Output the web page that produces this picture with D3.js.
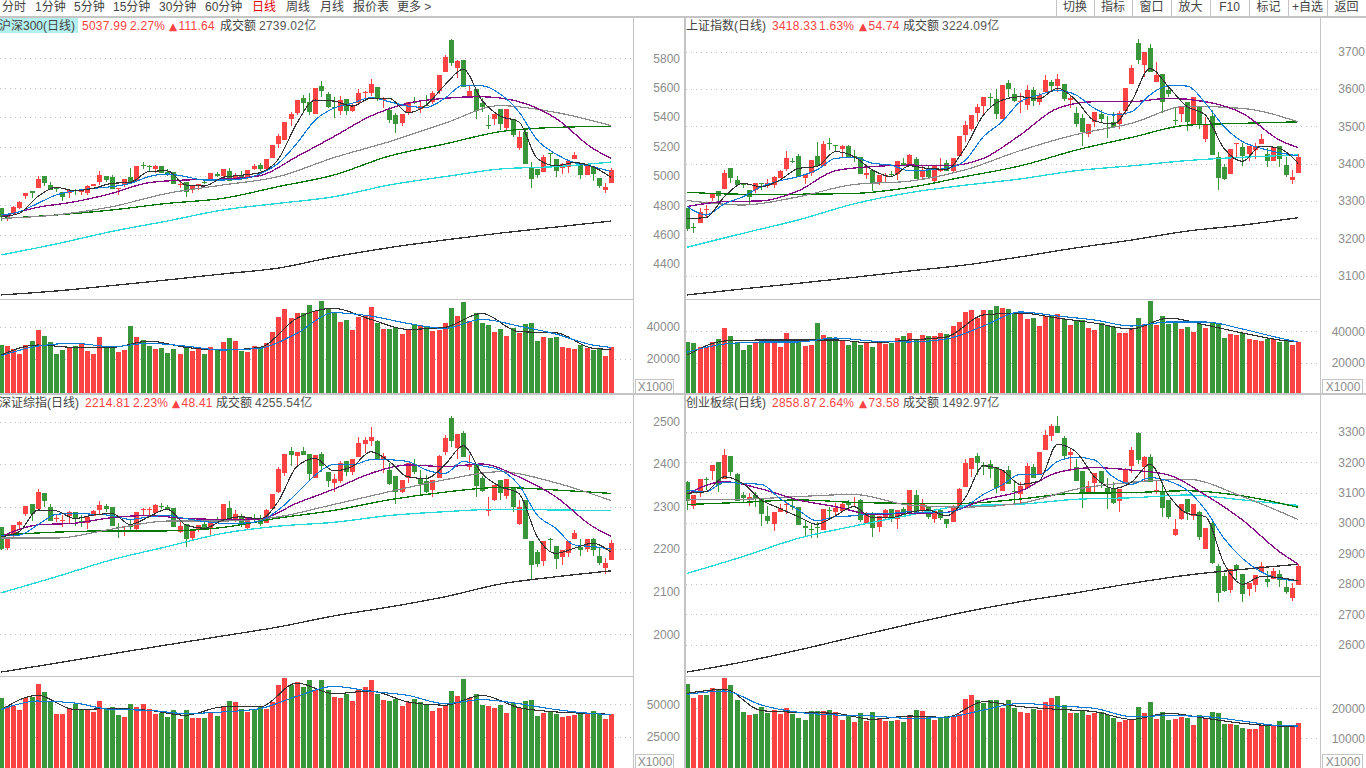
<!DOCTYPE html>
<html>
<head>
<meta charset="utf-8">
<title>指数日线</title>
<script src="https://d3js.org/d3.v7.min.js"></script>
<style>
    body { margin: 0; background: #fff; overflow: hidden; }
    svg { display: block; }
    text { font-family: "Liberation Sans", "Noto Sans CJK SC", sans-serif; font-size: 12px; }
    .ma, .wick, .grid, .rule { shape-rendering: crispEdges; }
    .ma { fill: none; }
</style>
</head>
<body>
<svg id="chart" width="1366" height="768"></svg>
<script>
// sample positions of the moving average readings (candle index)
const every3 = d3.range(0, 100, 3);
const every6 = d3.range(0, 100, 6).concat(99);
const every9 = d3.range(0, 100, 9);

const toolbarLeft = ["分时", "1分钟", "5分钟", "15分钟", "30分钟", "60分钟", "日线", "周线", "月线", "报价表", "更多 >"];
const toolbarRight = ["切换", "指标", "窗口", "放大", "F10", "标记", "+自选", "返回"];

// candles are [open, close, high, low]
const hs300Candles = [[4779,4722,4785,4695],[4717,4727,4734,4695],[4741,4786,4795,4738],[4779,4822,4830,4775],[4865,4881,4881,4840],[4895,4886,4895,4849],[4920,4976,4999,4920],[4999,4954,4999,4931],[4936,4904,4958,4904],[4922,4913,4922,4892],
[4890,4858,4890,4831],[4886,4904,4904,4849],[4902,4899,4913,4870],[4892,4896,4908,4872],[4886,4931,4938,4872],[4931,4942,4945,4928],[4961,5008,5033,4936],[4997,4970,4997,4958],[4992,4913,5008,4913],[4908,4917,4917,4872],
[4936,4976,4976,4922],[4992,4954,5051,4954],[4965,5067,5070,4960],[5072,5070,5092,5047],[5066,5064,5074,5029],[5047,5067,5074,5022],[5067,5022,5067,5022],[5024,5013,5044,4999],[5024,4947,5024,4947],[4940,4943,4961,4917],
[4956,4892,4956,4854],[4904,4938,4938,4881],[4933,4945,4948,4904],[4960,4957,4972,4945],[4972,5020,5020,4968],[5013,5001,5026,4990],[4999,5047,5047,4995],[5031,4963,5051,4963],[4979,4999,5017,4972],[5004,4995,5031,4972],
[4995,5040,5040,4976],[5047,5067,5081,5040],[5074,5044,5085,5035],[5047,5115,5115,5044],[5124,5212,5212,5124],[5219,5271,5285,5192],[5244,5366,5366,5244],[5389,5421,5437,5342],[5425,5516,5516,5414],[5532,5498,5550,5444],
[5503,5437,5562,5414],[5421,5598,5598,5421],[5611,5580,5648,5539],[5557,5471,5571,5460],[5468,5464,5539,5396],[5444,5516,5543,5414],[5521,5444,5521,5414],[5444,5475,5489,5435],[5498,5566,5589,5494],[5570,5573,5580,5510],
[5566,5625,5657,5543],[5605,5521,5605,5512],[5516,5528,5534,5460],[5448,5380,5466,5362],[5414,5353,5426,5294],[5362,5419,5419,5339],[5432,5500,5500,5414],[5502,5498,5534,5489],[5453,5478,5505,5426],[5484,5480,5550,5475],
[5505,5562,5577,5489],[5580,5686,5686,5557],[5709,5811,5822,5709],[5924,5770,5931,5750],[5736,5782,5788,5668],[5788,5602,5788,5602],[5546,5578,5618,5546],[5591,5444,5591,5385],[5494,5466,5528,5437],[5348,5345,5414,5317],
[5387,5421,5421,5346],[5455,5353,5455,5312],[5328,5455,5455,5312],[5387,5280,5387,5262],[5187,5267,5305,5176],[5298,5083,5323,5083],[5063,4976,5092,4920],[5047,5006,5047,4988],[5024,5128,5142,5024],[5155,5150,5158,5063],
[5115,5035,5115,4995],[5056,5081,5090,5013],[5060,5101,5101,5022],[5117,5142,5162,5117],[5085,5008,5085,4979],[5006,5081,5081,5006],[5063,5015,5063,4965],[4986,4931,4986,4920],[4904,4922,4949,4886],[4954,5038,5051,4954]];
const hs300Volume = [28650,28000,26000,23100,28650,31100,37950,34200,30500,23100,25550,26800,28000,29700,24950,23100,33600,26800,28000,24300,
25550,40400,33600,31750,28000,26200,26800,23700,26200,23100,28000,24950,26200,23100,27400,26200,30500,33000,31100,24950,
24300,28000,27400,29900,36700,46000,50900,45400,48500,48500,53400,49700,55900,50900,48500,42900,44100,37950,46000,46600,
52200,42300,38550,38550,39800,35450,37950,41000,41000,40400,37300,37950,42300,51600,46600,55300,43500,48500,42300,41000,
36700,38550,34200,39200,36100,41650,42300,31100,33600,33000,33600,27400,26800,26200,28650,27000,25550,26600,21800,27400];
const hs300Ma5 = [4722,4745,4859,4922,4899,4915,4949,4956,5029,5035,4938,4931,4990,5004,5022,5112,5357,5516,5509,5475,5528,5528,5430,5482,5618,5725,5516,5407,5369,5119,5069,5090,5063,4988];
const hs300Ma10 = [4734,4756,4813,4870,4899,4915,4927,4949,4995,5013,4995,4972,4972,4979,5013,5085,5221,5380,5460,5494,5532,5505,5475,5466,5528,5618,5614,5557,5437,5244,5149,5090,5063,5029];
const hs300Ma20 = [4722,4786,4824,4881,4954,4972,4979,5001,5131,5267,5407,5494,5528,5539,5505,5392,5187,5119];
const hs300Ma30 = [4711,4734,4790,4881,4938,4995,5124,5233,5358,5478,5432,5342];
const hs300Ma60 = [4711,4734,4768,4813,4847,4927,5006,5135,5217,5301,5330,5337];
const hs300Ma120 = [4462,4537,4622,4693,4768,4813,4858,4938,4995,5047,5063,5094];
const hs300Ma250 = [4190,4217,4254,4292,4333,4373,4449,4512,4564,4611,4652,4693];
const hs300VolMa5 = [22450,28650,27200,27200,31100,27200,25550,27200,45150,51350,44550,38350,39600,48250,36900,36300,26600,25950];
const hs300VolMa10 = [21850,28000,29700,27600,29700,28000,25550,26600,35900,48650,46600,42050,38950,44550,40400,35450,28650,27200];

const shCandles = [[3281,3225,3281,3220],[3230,3228,3242,3213],[3242,3271,3280,3240],[3276,3278,3289,3258],[3308,3319,3319,3300],[3326,3314,3326,3298],[3333,3376,3383,3333],[3387,3362,3387,3349],[3355,3343,3367,3343],[3347,3343,3347,3334],
[3328,3311,3328,3292],[3328,3347,3347,3322],[3347,3344,3347,3329],[3340,3348,3360,3334],[3343,3364,3367,3334],[3362,3380,3383,3362],[3386,3414,3434,3380],[3408,3406,3414,3401],[3420,3365,3425,3365],[3362,3371,3371,3345],
[3376,3410,3410,3367],[3420,3394,3457,3394],[3394,3453,3460,3394],[3454,3452,3469,3436],[3450,3446,3451,3435],[3440,3447,3449,3419],[3446,3418,3451,3417],[3420,3416,3436,3405],[3417,3373,3417,3373],[3369,3374,3387,3359],
[3382,3349,3382,3327],[3351,3369,3369,3342],[3368,3370,3376,3351],[3373,3371,3379,3365],[3372,3406,3406,3356],[3401,3396,3414,3394],[3398,3423,3426,3398],[3411,3358,3417,3358],[3365,3383,3396,3360],[3385,3363,3396,3358],
[3354,3396,3396,3351],[3382,3384,3414,3378],[3401,3381,3410,3381],[3379,3415,3415,3376],[3421,3475,3475,3421],[3478,3503,3514,3459],[3492,3530,3530,3488],[3535,3552,3560,3511],[3554,3578,3578,3530],[3578,3576,3589,3548],
[3572,3533,3599,3520],[3520,3611,3611,3520],[3615,3601,3624,3578],[3586,3569,3602,3564],[3567,3569,3590,3535],[3557,3597,3611,3545],[3597,3568,3606,3554],[3565,3583,3590,3557],[3592,3624,3637,3592],[3618,3608,3624,3593],
[3608,3626,3640,3593],[3613,3572,3613,3569],[3570,3575,3580,3550],[3535,3506,3552,3499],[3522,3485,3533,3447],[3479,3506,3506,3470],[3511,3537,3539,3499],[3533,3519,3544,3508],[3508,3506,3528,3469],[3511,3498,3537,3495],
[3506,3535,3542,3494],[3542,3604,3604,3530],[3613,3656,3664,3613],[3724,3678,3735,3667],[3664,3700,3700,3631],[3710,3645,3721,3645],[3619,3637,3673,3619],[3640,3565,3640,3535],[3597,3587,3610,3578],[3516,3514,3551,3503],
[3533,3554,3554,3512],[3566,3511,3566,3488],[3503,3578,3578,3503],[3551,3506,3551,3492],[3467,3503,3526,3458],[3528,3424,3544,3424],[3417,3361,3431,3329],[3392,3358,3399,3356],[3373,3439,3439,3373],[3452,3454,3456,3419],
[3444,3420,3456,3393],[3425,3447,3447,3406],[3436,3447,3454,3412],[3452,3465,3479,3452],[3427,3406,3442,3392],[3407,3445,3445,3407],[3447,3413,3447,3392],[3396,3369,3418,3365],[3356,3363,3383,3345],[3376,3418,3426,3376]];
const shVolume = [33100,32500,29900,29900,33100,35000,42050,36900,33100,28000,31200,32500,34400,35000,34400,29900,38850,33700,34400,30500,
31200,45200,37600,36300,33700,33700,31200,33700,31200,32500,29900,33700,31800,32500,35650,36900,38850,34400,37600,36900,
36900,38850,38200,43300,45900,52300,53500,48400,53500,53500,56100,54800,54200,51000,52900,47800,48400,43300,49700,50350,
51000,47800,43950,47150,47150,42050,40800,45200,43300,42700,38850,38850,42050,48400,44600,59300,43950,49700,44600,45900,
41400,42700,39500,44600,42050,45200,45200,35650,38200,37600,38850,35000,34400,33700,35000,35000,33100,33700,31200,33100];
const shMa5 = [3253,3255,3311,3347,3338,3356,3387,3392,3432,3419,3383,3365,3394,3387,3385,3441,3530,3570,3579,3574,3602,3570,3515,3506,3566,3655,3606,3553,3530,3441,3406,3447,3441,3401];
const shMa10 = [3285,3262,3292,3311,3338,3354,3365,3383,3414,3417,3401,3396,3381,3383,3387,3408,3472,3512,3566,3584,3596,3584,3548,3530,3539,3584,3609,3608,3562,3499,3459,3441,3429,3421];
const shMa20 = [3285,3298,3300,3327,3381,3392,3396,3394,3414,3477,3548,3566,3566,3575,3566,3535,3463,3443];
const shMa30 = [3301,3289,3311,3344,3353,3383,3435,3478,3508,3554,3548,3512];
const shMa60 = [3323,3318,3318,3320,3336,3365,3394,3436,3470,3503,3508,3512];
const shMa120 = [3176,3213,3249,3292,3322,3342,3359,3381,3394,3408,3417,3423];
const shMa250 = [3048,3064,3079,3095,3112,3128,3150,3174,3195,3219,3235,3255];
const shVolMa5 = [24800,33700,34400,34400,34400,32500,34400,36300,50350,51600,48400,45200,41400,48400,43950,38850,34400,33100];
const shVolMa10 = [26700,31800,33100,33100,35650,33700,33100,35000,43300,52300,49700,47150,43300,45900,45900,41400,35650,33100];

const szCandles = [[2252,2200,2252,2197],[2203,2224,2224,2198],[2235,2257,2257,2229],[2257,2264,2266,2245],[2283,2301,2301,2278],[2306,2283,2306,2266],[2294,2334,2341,2294],[2331,2312,2331,2298],[2299,2265,2306,2265],[2272,2274,2280,2263],
[2267,2269,2280,2251],[2279,2288,2290,2258],[2288,2272,2288,2255],[2266,2262,2280,2253],[2261,2276,2276,2247],[2279,2289,2292,2279],[2292,2304,2313,2282],[2301,2294,2305,2287],[2299,2254,2299,2254],[2251,2249,2261,2227],
[2251,2254,2254,2232],[2257,2252,2271,2245],[2247,2288,2288,2243],[2292,2294,2296,2280],[2292,2294,2298,2280],[2286,2304,2306,2286],[2301,2298,2309,2294],[2299,2294,2304,2292],[2296,2252,2296,2252],[2241,2254,2268,2239],
[2259,2224,2259,2206],[2226,2247,2247,2218],[2247,2257,2257,2241],[2258,2249,2269,2249],[2249,2269,2269,2233],[2271,2265,2276,2265],[2267,2306,2306,2267],[2297,2269,2312,2269],[2266,2283,2292,2263],[2276,2261,2282,2251],
[2249,2276,2276,2245],[2274,2272,2282,2261],[2271,2260,2280,2255],[2261,2291,2294,2261],[2294,2330,2330,2294],[2334,2388,2393,2331],[2380,2423,2423,2372],[2430,2421,2440,2396],[2420,2429,2429,2396],[2431,2421,2439,2421],
[2424,2377,2424,2363],[2368,2421,2421,2368],[2424,2396,2429,2381],[2381,2361,2381,2347],[2355,2366,2376,2334],[2359,2402,2407,2355],[2406,2381,2406,2372],[2382,2413,2413,2374],[2417,2449,2464,2417],[2448,2456,2464,2425],
[2454,2463,2487,2442],[2453,2413,2457,2409],[2412,2420,2425,2380],[2386,2353,2402,2351],[2372,2335,2372,2305],[2335,2363,2363,2331],[2368,2402,2402,2356],[2399,2381,2412,2377],[2366,2353,2386,2325],[2360,2335,2374,2333],
[2339,2363,2363,2322],[2368,2419,2421,2368],[2428,2461,2468,2421],[2509,2453,2513,2441],[2437,2471,2471,2413],[2473,2417,2478,2417],[2392,2399,2421,2386],[2401,2349,2401,2323],[2368,2337,2372,2334],[2289,2291,2323,2279],
[2316,2351,2351,2314],[2363,2331,2363,2316],[2326,2365,2365,2318],[2343,2298,2343,2288],[2259,2298,2315,2257],[2315,2225,2315,2225],[2218,2163,2218,2130],[2194,2166,2198,2159],[2171,2218,2218,2161],[2225,2223,2226,2196],
[2207,2176,2207,2153],[2182,2197,2197,2163],[2192,2220,2220,2182],[2224,2239,2245,2224],[2206,2197,2224,2184],[2200,2223,2223,2194],[2224,2198,2226,2185],[2183,2168,2202,2163],[2156,2168,2180,2142],[2175,2215,2221,2175]];
const szVolume = [54550,48500,48500,46000,54550,55300,65150,59100,51500,42400,42400,47000,50000,46200,45450,43950,52300,46200,47750,41650,
40150,50000,47750,50000,46200,42400,43200,40150,45450,38650,45450,39400,39400,39400,43200,40900,48500,52300,51500,46200,
43950,46200,47750,46200,51500,64400,69700,64400,66700,62900,68200,60600,68200,60600,55300,54550,57600,52300,61400,62900,
68200,57600,53050,52300,53800,48500,51500,53800,52000,49250,44700,47000,48500,59850,56050,68950,54550,57600,49250,48500,
47000,49250,43200,50750,47000,52300,53050,40900,43200,43950,42400,40150,40900,41650,42400,43200,44700,42400,38650,42400];
const szMa5 = [2229,2241,2292,2290,2272,2280,2284,2258,2276,2294,2257,2249,2268,2276,2271,2312,2394,2413,2384,2394,2429,2406,2370,2366,2398,2443,2378,2347,2331,2229,2190,2202,2214,2193];
const szMa10 = [2232,2233,2257,2282,2284,2282,2279,2270,2276,2279,2272,2265,2261,2261,2266,2292,2331,2374,2399,2398,2410,2410,2406,2386,2378,2406,2396,2386,2351,2280,2249,2210,2206,2200];
const szMa20 = [2229,2257,2261,2274,2279,2272,2270,2271,2308,2341,2378,2398,2394,2400,2370,2323,2253,2230];
const szMa30 = [2226,2226,2247,2266,2266,2276,2305,2335,2363,2382,2356,2314];
const szMa60 = [2233,2240,2243,2243,2251,2273,2291,2316,2334,2345,2339,2331];
const szMa120 = [2097,2135,2175,2206,2237,2254,2263,2279,2288,2294,2292,2291];
const szMa250 = [1911,1932,1954,1975,1996,2017,2043,2064,2088,2118,2135,2149];
const szVolMa5 = [45450,56800,46000,46700,45450,41650,48000,48000,66150,58100,60100,51800,49250,56800,47500,44200,42950,42400];
const szVolMa10 = [46000,52500,51000,46000,45450,42950,44200,46700,56050,63650,59850,56800,50500,53550,50500,46000,42950,42200];

const cybCandles = [[3135,3072,3138,3043],[3057,3092,3092,3046],[3101,3145,3145,3087],[3146,3144,3152,3108],[3171,3192,3192,3141],[3202,3125,3202,3103],[3145,3223,3243,3145],[3220,3169,3220,3156],[3160,3073,3163,3073],[3092,3081,3101,3068],
[3079,3084,3098,3057],[3092,3081,3101,3054],[3081,3031,3081,2991],[3024,3007,3056,2997],[2996,3035,3035,2975],[3037,3048,3061,3037],[3058,3061,3070,3029],[3055,3052,3079,3043],[3052,2994,3052,2994],[2989,2983,3007,2955],
[2982,2980,2996,2952],[2986,2984,3004,2950],[2978,3046,3046,2978],[3044,3042,3054,3021],[3035,3050,3065,3021],[3041,3061,3068,3041],[3066,3059,3075,3046],[3066,3069,3085,3054],[3076,3010,3079,3004],[3000,3025,3037,3000],
[3031,2985,3035,2955],[2987,3022,3022,2970],[3018,3043,3046,3013],[3046,3018,3046,3004],[3012,3043,3043,2980],[3045,3026,3054,3026],[3032,3108,3108,3032],[3092,3033,3108,3033],[3040,3061,3079,3035],[3056,3021,3056,3013],
[3012,3040,3040,2999],[3042,3018,3042,3010],[3013,2998,3013,2985],[3003,3048,3059,3003],[3057,3112,3116,3050],[3119,3197,3210,3119],[3179,3214,3214,3152],[3220,3197,3231,3158],[3192,3184,3202,3158],[3194,3177,3207,3147],
[3184,3114,3184,3098],[3104,3174,3174,3104],[3174,3127,3188,3127],[3104,3102,3141,3061],[3096,3123,3134,3065],[3116,3187,3196,3116],[3184,3149,3194,3149],[3160,3233,3233,3160],[3241,3289,3306,3241],[3286,3319,3325,3271],
[3319,3297,3352,3297],[3279,3220,3286,3215],[3225,3233,3245,3171],[3184,3138,3212,3138],[3171,3101,3171,3048],[3094,3123,3138,3094],[3131,3164,3164,3098],[3171,3133,3171,3114],[3116,3096,3147,3046],[3112,3066,3134,3064],
[3072,3113,3113,3037],[3127,3177,3180,3127],[3187,3240,3250,3166],[3296,3208,3300,3193],[3185,3218,3220,3138],[3217,3136,3227,3136],[3104,3107,3142,3094],[3106,3050,3125,3021],[3075,3021,3075,3013],[2961,2980,3015,2957],
[3013,3061,3061,3010],[3079,3037,3079,3010],[3024,3062,3062,3010],[3036,2954,3040,2944],[2915,2983,2983,2915],[3000,2869,3013,2865],[2858,2770,2864,2742],[2827,2778,2835,2775],[2780,2849,2849,2770],[2862,2849,2864,2813],
[2833,2767,2833,2742],[2783,2803,2803,2760],[2796,2831,2831,2775],[2839,2859,2871,2839],[2815,2807,2842,2790],[2816,2842,2851,2816],[2832,2812,2846,2790],[2790,2773,2813,2767],[2755,2786,2802,2744],[2798,2859,2867,2798]];
const cybVolume = [28100,23430,24430,24430,26770,26100,30100,27770,22770,18770,17770,18100,20430,18320,19430,18100,20100,18100,16770,16100,
19100,19100,19100,19430,18770,16100,17430,15430,18430,15770,18770,16770,15770,15770,16100,15430,17770,19430,19100,17430,
16100,17100,17430,17100,18100,23100,24430,22770,21770,22770,22770,20100,22770,20100,18770,18430,19770,19430,22100,23430,
24100,21100,18430,18430,19430,17770,18430,18770,17770,16660,15430,16100,16320,20430,18430,22100,16430,18770,16100,16430,
17100,16770,14440,17770,16430,18770,18430,14770,14770,14440,13430,13100,13100,14440,14100,14440,15770,14100,14100,15100];
const cybMa5 = [3098,3103,3152,3130,3076,3048,3021,2996,3024,3054,3018,3018,3035,3043,3024,3081,3188,3174,3127,3138,3258,3234,3152,3114,3134,3194,3092,3032,3021,2868,2799,2824,2821,2810];
const cybMa10 = [3108,3103,3134,3130,3127,3081,3043,3007,3021,3024,3032,3032,3037,3035,3035,3054,3094,3125,3160,3158,3202,3216,3207,3152,3127,3149,3138,3108,3043,2950,2884,2840,2818,2810];
const cybMa20 = [3096,3136,3112,3076,3054,3029,3032,3035,3076,3105,3166,3182,3174,3158,3092,3010,2906,2865];
const cybMa30 = [3076,3078,3087,3094,3059,3052,3065,3111,3134,3144,3087,3012];
const cybMa60 = [3061,3068,3076,3068,3065,3065,3079,3098,3100,3106,3089,3052];
const cybMa120 = [2835,2890,2950,2990,3026,3057,3062,3078,3083,3092,3076,3058];
const cybMa250 = [2511,2544,2583,2626,2668,2708,2742,2771,2802,2829,2848,2865];
const cybVolMa5 = [25000,26320,19210,18660,18320,16320,17430,16990,22210,20550,19660,18880,16320,18320,16660,14990,14100,14100];
const cybVolMa10 = [24660,25770,21100,18660,17770,17430,16660,16990,19430,21660,20770,19990,17210,17550,17210,15770,14210,14100];

const RED = "#fb4343";
const GREEN = "#3a963a";
const RULE = "#c4c4c4";
const AXIS_TEXT = "#8c8c8c";

const panels = [
    {
        title: ["沪深300(日线)", "5037.99", "2.27%", "111.64", "2739.02亿"], titleX: [-1, 82, 130, 169, 220, 259], titleY: 30, titleBg: true,
        candles: hs300Candles, volume: hs300Volume,
        mas: [hs300Ma250, hs300Ma120, hs300Ma60, hs300Ma30, hs300Ma20, hs300Ma10, hs300Ma5], volMas: [hs300VolMa5, hs300VolMa10],
        priceTicks: [5800, 5600, 5400, 5200, 5000, 4800, 4600, 4400], priceDomain: [4400, 5800], priceRange: [264.1, 58.3],
        volTicks: [40000, 20000], volDomain: [0, 40000], volRange: [391.3, 326.7],
        left: 0, right: 633, first: 0.7, last: 611.3, top: 33, split: 299, bottom: 393, labelX: 680, boxX: 635, boxW: 38
    },
    {
        title: ["上证指数(日线)", "3418.33", "1.63%", "54.74", "3224.09亿"], titleX: [686, 772, 819, 859, 903, 942], titleY: 30,
        candles: shCandles, volume: shVolume,
        mas: [shMa250, shMa120, shMa60, shMa30, shMa20, shMa10, shMa5], volMas: [shVolMa5, shVolMa10],
        priceTicks: [3700, 3600, 3500, 3400, 3300, 3200, 3100], priceDomain: [3100, 3700], priceRange: [275.5, 51.7],
        volTicks: [40000, 20000], volDomain: [0, 40000], volRange: [393.8, 331.2],
        left: 686, right: 1320, first: 687.3, last: 1298, top: 33, split: 299, bottom: 393, labelX: 1365, boxX: 1322, boxW: 40
    },
    {
        title: ["深证综指(日线)", "2214.81", "2.23%", "48.41", "4255.54亿"], titleX: [-1, 85, 133, 172, 216, 255], titleY: 407,
        candles: szCandles, volume: szVolume,
        mas: [szMa250, szMa120, szMa60, szMa30, szMa20, szMa10, szMa5], volMas: [szVolMa5, szVolMa10],
        priceTicks: [2500, 2400, 2300, 2200, 2100, 2000], priceDomain: [2000, 2500], priceRange: [634.25, 421.5],
        volTicks: [50000, 25000], volDomain: [0, 50000], volRange: [770, 704.3],
        left: 0, right: 633, first: 0.7, last: 611.3, top: 410, split: 676, bottom: 768, labelX: 680, boxX: 635, boxW: 38
    },
    {
        title: ["创业板综(日线)", "2858.87", "2.64%", "73.58", "1492.97亿"], titleX: [686, 772, 819, 859, 903, 942], titleY: 407,
        candles: cybCandles, volume: cybVolume,
        mas: [cybMa250, cybMa120, cybMa60, cybMa30, cybMa20, cybMa10, cybMa5], volMas: [cybVolMa5, cybVolMa10],
        priceTicks: [3300, 3200, 3100, 3000, 2900, 2800, 2700, 2600], priceDomain: [2600, 3300], priceRange: [644.9, 431.7],
        volTicks: [20000, 10000], volDomain: [0, 20000], volRange: [768.3, 708.3],
        left: 686, right: 1320, first: 687.3, last: 1298, top: 410, split: 676, bottom: 768, labelX: 1365, boxX: 1322, boxW: 40
    }
];

// slowest first, same order as the mas arrays above
const maStyles = [
    { color: "#333333", idx: every9, width: 1.3 },
    { color: "#25d9d9", idx: every9, width: 1.3 },
    { color: "#067806", idx: every9, width: 1.3 },
    { color: "#8a8a8a", idx: every9, width: 1.2 },
    { color: "#860a86", idx: every6, width: 1.3 },
    { color: "#0a7ad6", idx: every3, width: 1.1 },
    { color: "#333333", idx: every3, width: 1.1 }
];
const volMaStyles = [{ color: "#333333" }, { color: "#0a7ad6" }];

const svg = d3.select("#chart");

function drawToolbar() {
    const g = svg.append("g");
    const leftX = [2, 35, 74, 113, 159, 205, 252, 286, 320, 353, 397];
    g.selectAll("text").data(toolbarLeft).enter().append("text")
        .attr("x", (d, i) => leftX[i])
        .attr("y", 11)
        .attr("fill", d => d === "日线" ? "#e00000" : "#444")
        .text(d => d);

    const edges = [1056, 1094, 1132, 1171, 1210, 1249, 1288, 1327, 1366];
    const right = svg.append("g");
    right.selectAll("line").data(edges).enter().append("line")
        .attr("class", "rule")
        .attr("x1", d => d).attr("x2", d => d)
        .attr("y1", 0).attr("y2", 16)
        .attr("stroke", RULE);
    right.selectAll("text").data(toolbarRight).enter().append("text")
        .attr("x", (d, i) => (edges[i] + edges[i + 1]) / 2)
        .attr("y", 11)
        .attr("text-anchor", "middle")
        .attr("fill", "#444")
        .text(d => d);
    svg.append("rect").attr("x", 0).attr("y", 16).attr("width", 1366).attr("height", 2).attr("fill", RULE);
}

function drawPanel(p, n) {
    const x = d3.scaleLinear().domain([0, 99]).range([p.first, p.last]);
    const y = d3.scaleLinear().domain(p.priceDomain).range(p.priceRange);
    const yv = d3.scaleLinear().domain(p.volDomain).range(p.volRange);
    const cx = i => Math.round(x(i));

    svg.append("clipPath").attr("id", "price" + n).append("rect")
        .attr("x", p.left).attr("y", p.top).attr("width", p.right - p.left).attr("height", p.split - p.top);
    svg.append("clipPath").attr("id", "vol" + n).append("rect")
        .attr("x", p.left).attr("y", p.split + 1).attr("width", p.right - p.left).attr("height", p.bottom - p.split - 1);

    // dotted grid
    svg.append("g").selectAll("line").data(p.priceTicks).enter().append("line")
        .attr("class", "grid")
        .attr("x1", p.left).attr("x2", p.right)
        .attr("y1", d => Math.round(y(d)) + 0.5).attr("y2", d => Math.round(y(d)) + 0.5)
        .attr("stroke", "#bdbdbd").attr("stroke-dasharray", "1,4");
    svg.append("g").selectAll("line").data(p.volTicks).enter().append("line")
        .attr("class", "grid")
        .attr("x1", p.left).attr("x2", p.right)
        .attr("y1", d => Math.round(yv(d)) + 0.5).attr("y2", d => Math.round(yv(d)) + 0.5)
        .attr("stroke", "#bdbdbd").attr("stroke-dasharray", "1,4");

    // candles
    const price = svg.append("g").attr("clip-path", `url(#price${n})`);
    const candle = price.selectAll("g").data(p.candles).enter().append("g");
    const color = d => d[1] >= d[0] ? RED : GREEN;
    candle.append("line")
        .attr("class", "wick")
        .attr("x1", (d, i) => cx(i) + 0.5).attr("x2", (d, i) => cx(i) + 0.5)
        .attr("y1", d => Math.round(y(d[2]))).attr("y2", d => Math.round(y(d[3])))
        .attr("stroke", color);
    candle.append("rect")
        .attr("class", "wick")
        .attr("x", (d, i) => cx(i) - 2)
        .attr("width", 5)
        .attr("y", d => Math.round(y(Math.max(d[0], d[1]))))
        .attr("height", d => Math.max(1, Math.round(y(Math.min(d[0], d[1]))) - Math.round(y(Math.max(d[0], d[1])))))
        .attr("fill", color);

    // moving averages
    p.mas.forEach((values, k) => {
        const style = maStyles[k];
        const line = d3.line()
            .x((d, i) => x(style.idx[i]))
            .y(d => y(d))
            .curve(d3.curveMonotoneX);
        price.append("path").attr("class", "ma").attr("d", line(values))
            .attr("stroke", style.color).attr("stroke-width", style.width);
    });

    // volume
    const vol = svg.append("g").attr("clip-path", `url(#vol${n})`);
    vol.selectAll("rect").data(p.volume).enter().append("rect")
        .attr("class", "wick")
        .attr("x", (d, i) => cx(i) - 2)
        .attr("width", 5)
        .attr("y", d => Math.round(yv(d)))
        .attr("height", d => p.bottom - Math.round(yv(d)))
        .attr("fill", (d, i) => color(p.candles[i]));
    p.volMas.forEach((values, k) => {
        const line = d3.line()
            .x((d, i) => x(every6[i]))
            .y(d => yv(d))
            .curve(d3.curveMonotoneX);
        vol.append("path").attr("class", "ma").attr("d", line(values))
            .attr("stroke", volMaStyles[k].color).attr("stroke-width", 1.1);
    });

    // right axis labels
    [[y, p.priceTicks], [yv, p.volTicks]].forEach(([scale, ticks]) => {
        const axis = svg.append("g")
            .attr("transform", `translate(${p.labelX},0)`)
            .call(d3.axisRight(scale).tickValues(ticks).tickSize(0).tickPadding(0).tickFormat(d3.format("d")));
        axis.select(".domain").remove();
        axis.selectAll("text")
            .attr("x", 0)
            .attr("text-anchor", "end")
            .attr("fill", AXIS_TEXT)
            .style("font-family", '"Liberation Sans", sans-serif')
            .style("font-size", "12px");
    });

    // x1000 box
    svg.append("rect")
        .attr("class", "rule")
        .attr("x", p.boxX + 0.5).attr("y", p.bottom - 13.5)
        .attr("width", p.boxW).attr("height", 14)
        .attr("fill", "#fff").attr("stroke", RULE);
    svg.append("text")
        .attr("x", p.boxX + 1 + p.boxW / 2).attr("y", p.bottom - 2)
        .attr("text-anchor", "middle").attr("fill", AXIS_TEXT)
        .text("X1000");

    // title row
    const t = svg.append("g");
    if (p.titleBg) {
        t.append("rect").attr("x", 0).attr("y", 18).attr("width", 78).attr("height", 15).attr("fill", "#b4f0f0");
    }
    t.append("text").attr("x", p.titleX[0]).attr("y", p.titleY).attr("fill", "#444").text(p.title[0]);
    t.append("text").attr("x", p.titleX[1]).attr("y", p.titleY).attr("fill", RED).style("letter-spacing", "0.25px").text(p.title[1]);
    t.append("text").attr("x", p.titleX[2]).attr("y", p.titleY).attr("fill", RED).style("letter-spacing", "0.25px").text(p.title[2]);
    t.append("text").attr("x", p.titleX[3]).attr("y", p.titleY).attr("fill", RED).text("▲")
        .style("font-family", '"DejaVu Sans", sans-serif').style("font-size", "10.5px");
    t.append("text").attr("x", p.titleX[3] + 9.5).attr("y", p.titleY).attr("fill", RED).style("letter-spacing", "0.25px").text(p.title[3]);
    t.append("text").attr("x", p.titleX[4]).attr("y", p.titleY).attr("fill", "#444").text("成交额");
    t.append("text").attr("x", p.titleX[5]).attr("y", p.titleY).attr("fill", "#555").style("letter-spacing", "0.25px").text(p.title[4]);

    // separator between price and volume
    svg.append("line").attr("class", "rule")
        .attr("x1", p.left).attr("x2", p.right)
        .attr("y1", p.split + 0.5).attr("y2", p.split + 0.5)
        .attr("stroke", RULE);
}

drawToolbar();
panels.forEach(drawPanel);

// frame lines
const frame = svg.append("g");
[633.5, 1320.5].forEach(v => {
    frame.append("line").attr("class", "rule")
        .attr("x1", v).attr("x2", v).attr("y1", 17).attr("y2", 768)
        .attr("stroke", RULE);
});
frame.append("rect").attr("x", 684).attr("y", 17).attr("width", 2).attr("height", 751).attr("fill", RULE);
frame.append("rect").attr("x", 0).attr("y", 393).attr("width", 1366).attr("height", 2).attr("fill", RULE);
</script>
</body>
</html>
